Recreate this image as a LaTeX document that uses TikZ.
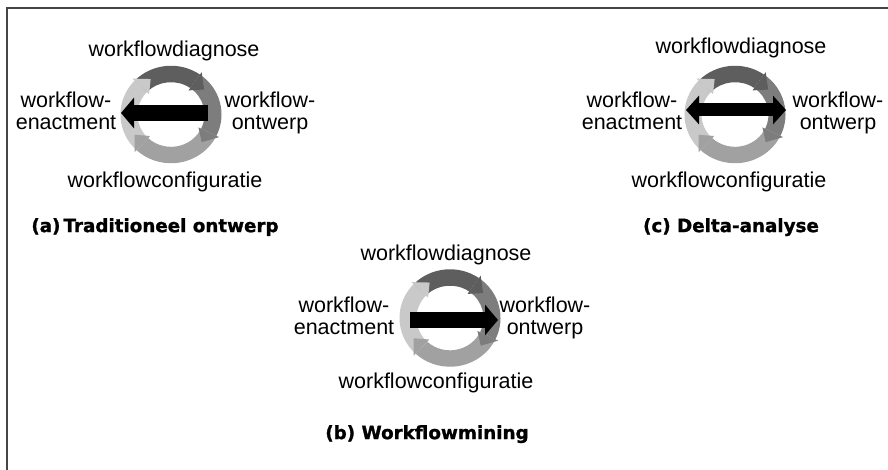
\documentclass[tikz,border=0pt]{standalone}
\usepackage{fontspec}
\setmainfont{Liberation Sans}
\newfontfamily\capfont{DejaVu Sans}[BoldFeatures={FakeBold=1.2}]
\usetikzlibrary{arrows.meta}
\definecolor{ringA}{gray}{0.37}
\definecolor{ringB}{gray}{0.49}
\definecolor{ringC}{gray}{0.63}
\definecolor{ringD}{gray}{0.79}
\definecolor{framec}{gray}{0.27}
\tikzset{
  lbl/.style={font=\fontsize{21.5}{22}\selectfont, inner sep=0pt, anchor=north, align=center},
  captext/.style={font=\capfont\bfseries\fontsize{18.3}{20}\selectfont, inner sep=0pt, anchor=north},
  blk/.style={line width=16pt, black},
  thinblk/.style={line width=13pt, black},
}
% ring body: colour, start angle, end angle (clockwise)
\newcommand\wfbody[3]{%
  \fill[#1] (#2:50.5) arc[start angle=#2, end angle=#3, radius=50.5]
     -- (#3:33.5) arc[start angle=#3, end angle=#2, radius=33.5] -- cycle;
}
% head: colour, tip angle
\newcommand\wfhead[2]{%
  \fill[#1] ({#2+17}:30.5) -- ({#2+17}:53.5) -- (#2:42) -- cycle;
}
\newcommand\wfring[2]{%
  \begin{scope}[shift={(#1,#2)},yscale=-0.965]
    \wfbody{ringA}{136}{55}
    \wfbody{ringB}{55}{-26}
    \wfbody{ringC}{-26}{-133}
    \wfbody{ringD}{-133}{-224}
    \wfhead{ringA}{38}
    \wfhead{ringB}{-43}
    \wfhead{ringC}{-150}
    \wfhead{ringD}{-241}
  \end{scope}}
\begin{document}
\begin{tikzpicture}[x=1pt,y=-1pt]
\useasboundingbox (0,0) rectangle (888,470);
\fill[white] (0,0) rectangle (888,470);
\draw[framec, line width=2pt] (6.5,470) -- (6.5,8.5) -- (888,8.5);

% (a)
\wfring{171}{114.5}
\coordinate (aR) at (208,113);
\coordinate (aL) at (121,113);
\draw[blk, -{Triangle[length=13pt,width=30pt]}] (aR) -- (aL);
\node[lbl] (adiag) at (174,41) {workflowdiagnose};
\node[lbl] (aenact) at (66,92) {workflow-\\enactment};
\node[lbl] (aontw) at (270,92) {workflow-\\ontwerp};
\node[lbl] (aconf) at (165,172) {workflowconfiguratie};
\node[captext] (acap) at (155,218) {(a)\,Traditioneel ontwerp};

% (b)
\wfring{450}{318}
\coordinate (bL) at (410,320);
\coordinate (bR) at (498,320);
\draw[blk, -{Triangle[length=13pt,width=30pt]}] (bL) -- (bR);
\node[lbl] (bdiag) at (446,245) {workflowdiagnose};
\node[lbl] (benact) at (344,297) {workflow-\\enactment};
\node[lbl] (bontw) at (545,297) {workflow-\\ontwerp};
\node[lbl] (bconf) at (436,373) {workflowconfiguratie};
\node[captext] (bcap) at (427,425) {(b) Workflowmining};

% (c)
\wfring{735}{114.5}
\coordinate (cL) at (686,110);
\coordinate (cR) at (786,110);
\draw[thinblk, {Triangle[length=13pt,width=28pt]}-{Triangle[length=13pt,width=28pt]}] (cL) -- (cR);
\node[lbl] (cdiag) at (741,38) {workflowdiagnose};
\node[lbl] (cenact) at (632,92) {workflow-\\enactment};
\node[lbl] (contw) at (838,92) {workflow-\\ontwerp};
\node[lbl] (cconf) at (729,172) {workflowconfiguratie};
\node[captext] (ccap) at (731,218) {(c) Delta-analyse};
\end{tikzpicture}
\end{document}
